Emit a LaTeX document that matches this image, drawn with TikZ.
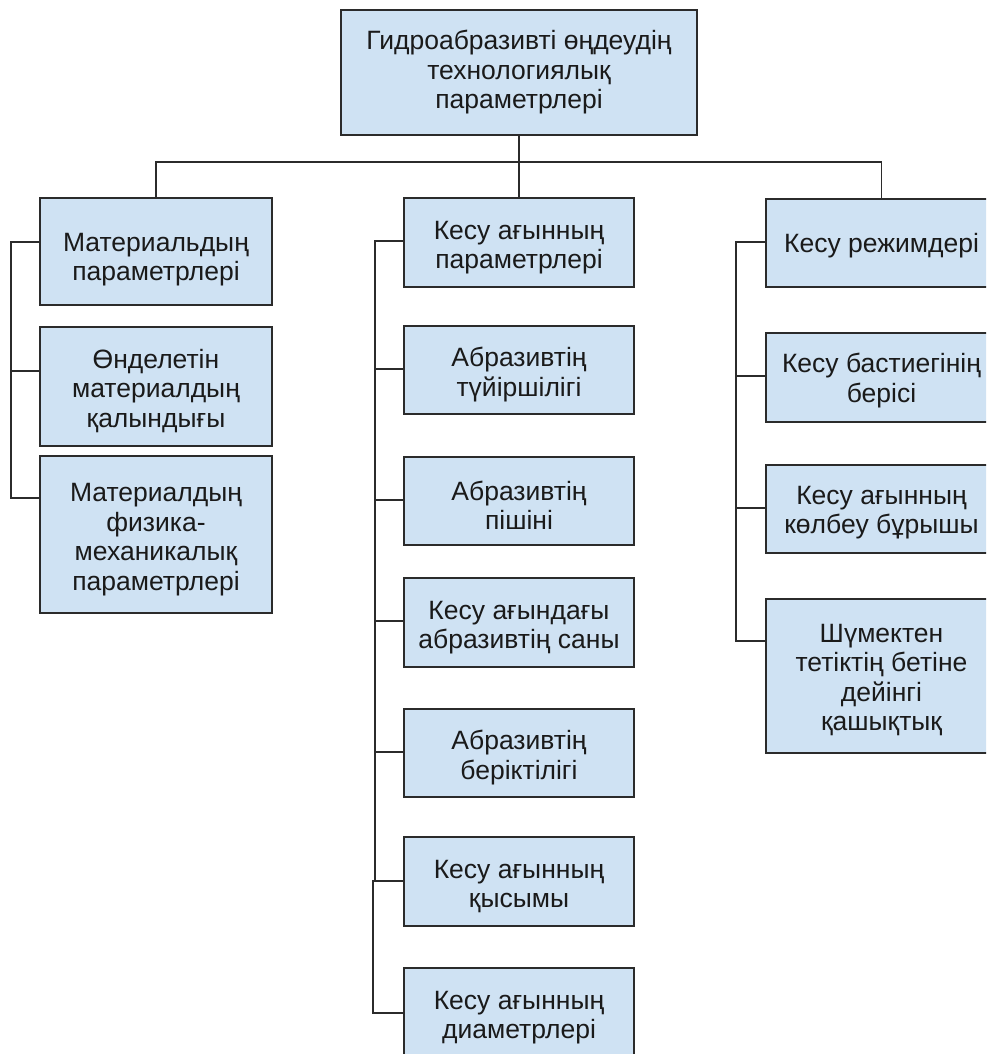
\documentclass[tikz,border=0pt]{standalone}
\usepackage{fontspec}
\setmainfont{Liberation Sans}
\definecolor{boxfill}{HTML}{CFE2F3}
\definecolor{boxline}{HTML}{2B2B2B}
\definecolor{txt}{HTML}{1A1A1A}
\newcommand{\boxstrut}[1][28pt]{\rule{0pt}{#1}}
\begin{document}
\begin{tikzpicture}[x=1pt,y=-1pt,
  box/.style={draw=boxline, line width=1.6pt, fill=boxfill, inner sep=0pt,
    align=center, text=txt, font=\fontsize{26.5}{29.5}\selectfont},
  conn/.style={draw=boxline, line width=1.6pt}]
\useasboundingbox (0,0) rectangle (986,1054);
\clip (0,0) rectangle (986,1054);
\fill[white] (0,0) rectangle (986,1054);
% top
\node[box, minimum width=356pt, minimum height=125pt] (top) at (519,72.5)
  {Гидроабразивті өңдеудің\\технологиялық\\параметрлері};
% left column
\node[box, minimum width=232pt, minimum height=107pt] (L1) at (156,251.5)
  {\boxstrut[34pt]Материальдың\\параметрлері};
\node[box, minimum width=232pt, minimum height=119pt] (L2) at (156,386.5)
  {\boxstrut Өнделетін\\материалдың\\қалындығы};
\node[box, minimum width=232pt, minimum height=157pt] (L3) at (156,534.5)
  {\boxstrut Материалдың\\физика-\\механикалық\\параметрлері};
% middle column
\node[box, minimum width=230pt, minimum height=89pt] (M1) at (519,242.5)
  {\boxstrut Кесу ағынның\\параметрлері};
\node[box, minimum width=230pt, minimum height=88pt] (M2) at (519,370)
  {\boxstrut Абразивтің\\түйіршілігі};
\node[box, minimum width=230pt, minimum height=88pt] (M3) at (519,501)
  {\boxstrut Абразивтің\\пішіні};
\node[box, minimum width=230pt, minimum height=89pt] (M4) at (519,622.5)
  {\boxstrut Кесу ағындағы\\абразивтің саны};
\node[box, minimum width=230pt, minimum height=88pt] (M5) at (519,753)
  {\boxstrut Абразивтің\\беріктілігі};
\node[box, minimum width=230pt, minimum height=89pt] (M6) at (519,881.5)
  {\boxstrut Кесу ағынның\\қысымы};
\node[box, minimum width=230pt, minimum height=89pt] (M7) at (519,1012.5)
  {\boxstrut Кесу ағынның\\диаметрлері};
% right column
\node[box, minimum width=231pt, minimum height=88pt] (R1) at (881.5,243)
  {\boxstrut[25pt]Кесу режимдері};
\node[box, minimum width=231pt, minimum height=89pt] (R2) at (881.5,377.5)
  {\boxstrut[25pt]Кесу бастиегінің\\берісі};
\node[box, minimum width=231pt, minimum height=88pt] (R3) at (881.5,509)
  {\boxstrut[25pt]Кесу ағынның\\көлбеу бұрышы};
\node[box, minimum width=231pt, minimum height=154pt] (R4) at (881.5,676)
  {\boxstrut[26pt]Шүмектен\\тетіктің бетіне\\дейінгі\\қашықтық};
% top connectors
\draw[conn] (top.south) -- (M1.north);
\draw[conn] (L1.north) -- ++(0,-35) -| (R1.north);
% left bracket
\draw[conn] ([yshift=-45pt]L1.north west) -- ++(-28pt,0) |- ([yshift=-43pt]L3.north west);
\draw[conn] ([yshift=-45pt]L2.north west) -- ++(-28pt,0);
% middle bracket
\draw[conn] ([yshift=-44pt]M1.north west) -- ++(-28pt,0) |- ([yshift=-44.5pt]M6.north west);
\foreach \n in {M2,M3,M4,M5}
  \draw[conn] ([yshift=-44pt]\n.north west) -- ++(-28pt,0);
\draw[conn] ([yshift=-46pt]M7.north west) -- ++(-30pt,0) |- ([yshift=-44.5pt]M6.north west);
% right bracket
\draw[conn] ([yshift=-44pt]R1.north west) -- ++(-29pt,0) |- ([yshift=-43pt]R4.north west);
\foreach \n in {R2,R3}
  \draw[conn] ([yshift=-44pt]\n.north west) -- ++(-29pt,0);
\end{tikzpicture}
\end{document}
